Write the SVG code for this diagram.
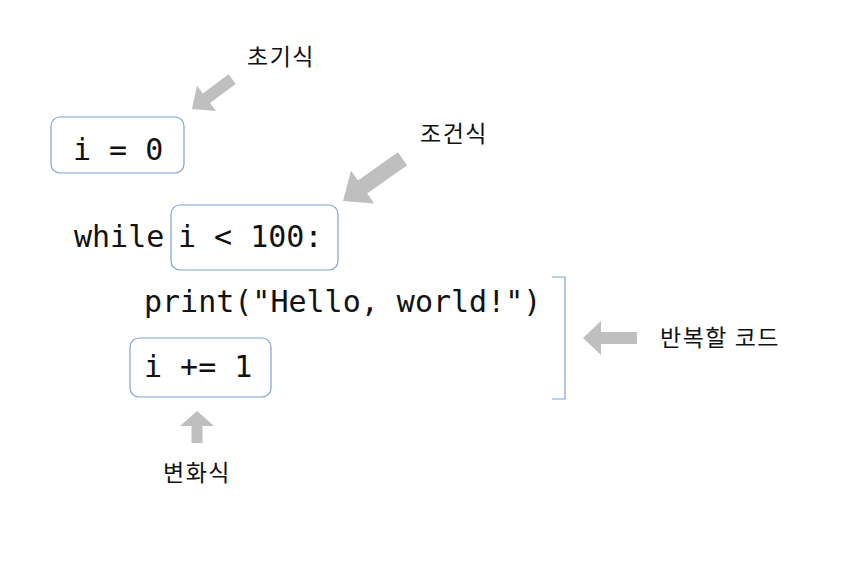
<svg xmlns="http://www.w3.org/2000/svg" width="853" height="566" viewBox="0 0 853 566">
<style>
.box{fill:#fff;stroke:#7fa1d8;stroke-width:1.2}
.code{font-family:"DejaVu Sans Mono","Liberation Mono",monospace;font-size:30px;fill:#111}
.lbl{font-family:"Noto Sans CJK KR","Noto Sans",sans-serif;font-size:23px;letter-spacing:1.5px;fill:#111}
.arr{fill:#bfbfbf}
</style>
<rect width="853" height="566" fill="#fff"/>
<g id="init">
<rect class="box" x="51" y="117" width="133" height="56" rx="9"/>
<text class="code" x="73" y="160" xml:space="preserve">i = 0</text>
</g>
<g id="while">
<text class="code" x="74" y="247">while</text>
<rect class="box" x="171" y="205" width="167" height="65" rx="9"/>
<text class="code" x="178" y="247" xml:space="preserve">i &lt; 100:</text>
</g>
<g id="print">
<text class="code" x="144" y="312">print("Hello, world!")</text>
</g>
<g id="incr">
<rect class="box" x="130" y="338" width="141" height="59" rx="9"/>
<text class="code" x="144" y="377" xml:space="preserve">i += 1</text>
</g>
<g id="bracket">
<path d="M552 277H565V399H552" fill="none" stroke="#7fa1d8" stroke-width="1.2"/>
</g>
<g id="labels">
<text class="lbl" x="247" y="65">초기식</text>
<text class="lbl" x="420" y="142">조건식</text>
<text class="lbl" x="660" y="346">반복할 코드</text>
<text class="lbl" x="163" y="481">변화식</text>
</g>
<g id="connectors">
<polygon class="arr" transform="translate(192,109) rotate(143.4)" points="0,0 -18,-16 -18,-6 -50,-6 -50,6 -18,6 -18,16"/>
<polygon class="arr" transform="translate(343,201) rotate(144.6)" points="0,0 -24,-20 -24,-8 -73,-8 -73,8 -24,8 -24,20"/>
<polygon class="arr" transform="translate(583,338) rotate(180)" points="0,0 -18,-17 -18,-6 -54,-6 -54,6 -18,6 -18,17"/>
<polygon class="arr" transform="translate(197,411) rotate(-90)" points="0,0 -15,-17 -15,-5.5 -32,-5.5 -32,5.5 -15,5.5 -15,17"/>
</g>
</svg>
